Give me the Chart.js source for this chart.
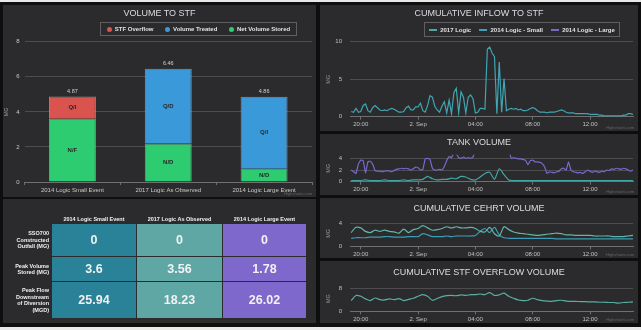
<!DOCTYPE html>
<html>
<head>
<meta charset="utf-8">
<script src="https://cdn.jsdelivr.net/npm/chart.js@4.4.1/dist/chart.umd.min.js"></script>
<style>
html,body{margin:0;padding:0;}
body{width:641px;height:330px;background:#e8e8e8;position:relative;overflow:hidden;font-family:"Liberation Sans",Arial,sans-serif;}
.frame{position:absolute;left:0;top:2px;width:641px;height:325px;background:#0e0e0f;}
.panel{position:absolute;background:#2b2b2d;overflow:hidden;}
.panel canvas{position:absolute;left:0;top:0;}
.ttl{position:absolute;left:0;right:0;text-align:center;color:#dcdcdf;font-size:9px;line-height:11px;}
.lgd{position:absolute;border:1px solid #606063;box-sizing:border-box;display:flex;justify-content:space-around;align-items:center;color:#e0e0e3;font-size:6px;font-weight:bold;}
.lgd i{display:inline-block;vertical-align:middle;margin-right:3px;}
.dot{width:5px;height:5px;border-radius:50%;}
.ln{width:8px;height:1.5px;}
.cred{position:absolute;right:4px;bottom:1px;font-size:4px;color:#666;}
.hd{position:absolute;top:17px;color:#f0f0f0;font-size:5.5px;font-weight:bold;text-align:center;}
.rl{position:absolute;left:0;width:46px;color:#f0f0f0;font-size:5.5px;font-weight:bold;line-height:6.5px;text-align:right;display:flex;align-items:center;justify-content:flex-end;}
.cell{position:absolute;color:#f2f2f2;font-size:12.5px;font-weight:bold;display:flex;align-items:center;justify-content:center;}
</style>
</head>
<body>
<div class="frame"></div>

<div class="panel" style="left:3px;top:5px;width:313px;height:192px">
  <canvas id="barChart" width="313" height="192"></canvas>
  <div class="ttl" style="top:3px">VOLUME TO STF</div>
  <div class="lgd" style="left:97px;top:17px;width:197px;height:14px">
    <span><i class="dot" style="background:#d9534f"></i>STF Overflow</span>
    <span><i class="dot" style="background:#3a9ad9"></i>Volume Treated</span>
    <span><i class="dot" style="background:#2ecc71"></i>Net Volume Stored</span>
  </div>
  <div class="cred">Highcharts.com</div>
</div>

<div class="panel" style="left:3px;top:199px;width:313px;height:124px" id="tbl">
  <div class="hd" style="left:49px;width:84px">2014 Logic Small Event</div>
  <div class="hd" style="left:134px;width:85px">2017 Logic As Observed</div>
  <div class="hd" style="left:220px;width:83px">2014 Logic Large Event</div>
  <div class="rl" style="top:25px;height:32px">SSO700<br>Constructed<br>Outfall (MG)</div>
  <div class="rl" style="top:58px;height:24px">Peak Volume<br>Stored (MG)</div>
  <div class="rl" style="top:83px;height:36px">Peak Flow<br>Downstream<br>of Diversion<br>(MGD)</div>
</div>

<div class="panel" style="left:320px;top:5px;width:318px;height:126px">
  <canvas id="inflowChart" width="318" height="126"></canvas>
  <div class="ttl" style="top:3px">CUMULATIVE INFLOW TO STF</div>
  <div class="lgd" style="left:104px;top:17px;width:196px;height:15px">
    <span><i class="ln" style="background:#4aa89c"></i>2017 Logic</span>
    <span><i class="ln" style="background:#3f9fb8"></i>2014 Logic - Small</span>
    <span><i class="ln" style="background:#7a68c8"></i>2014 Logic - Large</span>
  </div>
  <div class="cred">Highcharts.com</div>
</div>

<div class="panel" style="left:320px;top:134px;width:318px;height:61px">
  <canvas id="tankChart" width="318" height="61"></canvas>
  <div class="ttl" style="top:3px">TANK VOLUME</div>
  <div class="cred">Highcharts.com</div>
</div>

<div class="panel" style="left:320px;top:198px;width:318px;height:60px">
  <canvas id="cehrtChart" width="318" height="60"></canvas>
  <div class="ttl" style="top:5px">CUMULATIVE CEHRT VOLUME</div>
  <div class="cred">Highcharts.com</div>
</div>

<div class="panel" style="left:320px;top:261px;width:318px;height:62px">
  <canvas id="overflowChart" width="318" height="62"></canvas>
  <div class="ttl" style="top:6px">CUMULATIVE STF OVERFLOW VOLUME</div>
  <div class="cred">Highcharts.com</div>
</div>

<script>
// ---- bar chart data ----
var scenarios = ['2014 Logic Small Event', '2017 Logic As Observed', '2014 Logic Large Event'];
var netStored = [3.6, 2.2, 0.75];
var volTreated = [0, 4.26, 4.11];
var stfOverflow = [1.27, 0, 0];
var netLabels = ['N/F', 'N/D', 'N/D'];
var treatedLabels = ['', 'Q/D', 'Q/I'];
var overflowLabels = ['Q/I', '', ''];

// ---- table ----
var rowOutfall = ['0', '0', '0'];
var rowPeakStored = ['3.6', '3.56', '1.78'];
var rowPeakFlow = ['25.94', '18.23', '26.02'];

// ---- time series (hours since 1 Sep 00:00) ----
var tStart = 19 + 20 / 60;
var tMin = 19.25, tMax = 39.0;
var tickHours = [20, 24, 28, 32, 36];
var tickLabels = ['20:00', '2. Sep', '04:00', '08:00', '12:00'];

// 10 minute samples
var inflow2017 = [0.7,0.6,1.1,0.6,0.7,1.5,1.7,0.8,0.6,1.2,
  1.5,1.2,0.9,0.8,0.9,0.8,1.0,1.1,1.0,0.8,
  0.6,0.6,0.7,1.2,1.4,0.9,0.9,1.3,1.3,1.8,
  0.8,0.6,1.5,2.8,2.6,1.4,0.9,0.6,1.4,2.0,
  0.5,2.2,0.4,3.2,3.8,0.5,3.3,2.6,0.5,2.6,
  2.9,2.4,0.5,0.6,1.1,1.1,1.0,9.0,9.3,8.5,
  8.0,0.4,7.3,0.6,5.1,0.8,1.0,1.1,1.0,1.1,
  0.9,1.0,0.8,0.8,0.9,1.1,1.2,1.1,0.8,0.6,
  0.6,0.6,0.5,0.6,0.6,0.6,0.7,0.8,0.9,0.8,
  0.6,0.5,0.5,0.5,0.4,0.4,0.4,0.4,0.4,0.4,
  0.3,0.3,0.3,0.3,0.2,0.2,0.1,0.1,0.1,0.1,
  0.1,0.1,0.1,0.1,0.2,0.2,0.4,0.4,0.3];
var tankLarge = [2.0,1.7,1.4,3.0,3.7,3.6,1.5,3.4,3.5,3.0,
  1.9,1.8,1.8,1.7,1.8,1.9,1.8,1.7,1.9,2.1,
  2.2,2.3,2.2,2.3,2.2,2.0,2.2,2.5,2.4,2.0,
  2.1,3.9,4.0,3.8,2.3,2.0,2.0,2.1,2.0,2.6,
  3.6,4.3,4.1,5.0,4.8,4.1,4.0,4.2,4.0,4.1,
  4.0,4.2,5.5,5.5,5.5,5.5,5.5,5.5,5.5,5.5,
  5.5,5.5,5.5,5.5,5.5,5.5,5.5,4.0,4.1,4.0,
  3.9,3.9,3.8,3.7,2.9,3.6,3.7,3.4,3.4,3.3,
  3.1,2.5,1.4,1.7,1.6,1.5,1.7,1.8,2.2,2.3,
  2.0,3.4,2.0,1.7,1.6,1.5,1.6,1.4,1.7,2.0,
  1.8,1.6,1.8,1.7,1.6,1.8,1.7,2.0,1.9,2.2,
  2.1,2.3,2.2,2.1,2.3,2.2,2.0,1.8,2.0];

// 20 minute samples
var tank2017 = [0.2,0.2,0.2,0.3,0.2,0.2,0.2,0.3,0.2,0.2,
  0.2,0.3,0.2,0.3,0.3,0.4,0.9,0.5,0.3,0.4,
  0.4,0.6,0.5,0.9,0.8,0.4,0.3,0.8,1.4,1.6,
  0.4,2.2,1.2,0.3,0.2,0.2,0.2,0.2,0.2,0.2,
  0.2,0.2,0.2,0.2,0.2,0.2,0.2,0.2,0.2,0.2,
  0.2,0.2,0.2,0.2,0.2,0.2,0.2,0.2,0.2,0.2];
var cehrtUpper = [2.4,3.3,3.2,2.6,2.4,2.8,2.6,2.8,2.6,2.5,
  2.3,3.0,2.4,2.9,3.1,3.6,3.2,2.8,2.9,3.1,
  3.4,3.2,3.4,3.2,3.2,3.3,3.1,2.6,2.5,3.3,
  2.2,1.8,3.4,2.9,2.5,2.3,2.2,2.1,2.0,1.9,
  2.0,2.1,2.2,2.3,2.2,2.0,2.0,1.9,1.9,1.9,
  1.9,1.8,1.8,1.8,1.8,1.7,1.7,1.7,1.8,1.9];
var cehrtLower = [1.4,1.5,1.5,1.5,1.6,1.6,1.6,1.7,1.7,1.6,
  1.6,1.6,1.7,1.7,1.7,2.2,2.0,1.7,1.7,1.7,
  1.8,1.7,1.8,1.8,1.8,1.8,1.9,2.6,3.1,2.4,
  3.3,2.0,1.5,1.4,1.4,1.4,1.4,1.4,1.4,1.4,
  1.4,1.4,1.4,1.3,1.3,1.3,1.3,1.3,1.3,1.3,
  1.3,1.3,1.3,1.3,1.3,1.3,1.3,1.3,1.3,1.3];
var overflowVol = [3.8,5.6,5.3,4.4,3.8,4.7,4.1,4.0,4.4,4.1,
  4.5,3.8,4.2,4.6,5.3,5.9,5.3,3.9,4.5,5.2,
  5.5,5.6,5.5,5.8,5.6,5.9,5.9,6.1,5.9,6.6,
  5.6,5.8,6.4,5.3,4.6,4.0,3.8,3.9,4.6,4.1,
  3.8,3.6,3.5,3.8,3.9,3.6,3.5,3.5,3.4,3.4,
  3.3,3.3,3.2,3.2,3.1,3.1,2.9,3.1,3.2,3.3];

Chart.defaults.font.family = '"Liberation Sans", Arial, sans-serif';
Chart.defaults.color = '#c8c8c8';

function toPoints(values, stepMin) {
  return values.map(function (v, i) {
    return { x: tStart + i * stepMin / 60, y: v };
  });
}

/* table cells */
var tbl = document.getElementById('tbl');
var colX = [49, 134, 220], colW = [84, 85, 83];
var rowY = [25, 58, 83], rowH = [32, 24, 36];
var colColors = ['#2a8298', '#5ea7a5', '#7e68cb'];
[rowOutfall, rowPeakStored, rowPeakFlow].forEach(function (row, r) {
  row.forEach(function (txt, c) {
    var d = document.createElement('div');
    d.className = 'cell';
    d.style.left = colX[c] + 'px';
    d.style.top = rowY[r] + 'px';
    d.style.width = colW[c] + 'px';
    d.style.height = rowH[r] + 'px';
    d.style.background = colColors[c];
    d.textContent = txt;
    tbl.appendChild(d);
  });
});

/* bar chart */
var segLabels = [netLabels, treatedLabels, overflowLabels];
var barLabels = {
  id: 'barLabels',
  afterDatasetsDraw: function (chart) {
    var ctx = chart.ctx;
    var y = chart.scales.y;
    ctx.save();
    ctx.textAlign = 'center';
    ctx.textBaseline = 'middle';
    ctx.font = 'bold 6px "Liberation Sans", Arial';
    ctx.fillStyle = '#2a2a2a';
    chart.data.datasets.forEach(function (ds, di) {
      chart.getDatasetMeta(di).data.forEach(function (bar, i) {
        var txt = segLabels[di][i];
        if (txt) ctx.fillText(txt, bar.x, (bar.y + bar.base) / 2);
      });
    });
    ctx.font = '5.5px "Liberation Sans", Arial';
    ctx.fillStyle = '#d0d0d0';
    chart.getDatasetMeta(0).data.forEach(function (bar, i) {
      var total = netStored[i] + volTreated[i] + stfOverflow[i];
      ctx.fillText(total.toFixed(2), bar.x, y.getPixelForValue(total) - 5);
    });
    ctx.restore();
  }
};

new Chart(document.getElementById('barChart'), {
  type: 'bar',
  data: {
    labels: scenarios,
    datasets: [
      { label: 'Net Volume Stored', data: netStored, backgroundColor: '#2ecc71' },
      { label: 'Volume Treated', data: volTreated, backgroundColor: '#3a9ad9' },
      { label: 'STF Overflow', data: stfOverflow, backgroundColor: '#d9534f' }
    ].map(function (d) {
      d.borderColor = 'rgba(225,225,225,0.55)';
      d.borderWidth = 1;
      d.barPercentage = 0.49;
      d.categoryPercentage = 1;
      return d;
    })
  },
  options: {
    responsive: false,
    animation: false,
    devicePixelRatio: 1,
    layout: { padding: { top: 36.7, right: 4, left: 0, bottom: 0 } },
    plugins: { legend: { display: false }, tooltip: { enabled: false } },
    scales: {
      x: {
        stacked: true,
        afterFit: function (s) { s.height = 15; },
        grid: { offset: true, drawOnChartArea: false, color: '#707073', tickLength: 3 },
        border: { color: '#707073' },
        ticks: { color: '#c8c8c8', font: { size: 6 }, padding: 2, maxRotation: 0 }
      },
      y: {
        stacked: true,
        min: 0,
        max: 8,
        afterFit: function (s) { s.width = 21.5; },
        ticks: { stepSize: 2, color: '#c8c8c8', font: { size: 6 }, padding: 5 },
        grid: { color: '#4d4d50', drawTicks: false },
        border: { display: false },
        title: { display: true, text: 'MG', color: '#9a9a9a', font: { size: 5.5 }, padding: 0 }
      }
    }
  },
  plugins: [barLabels]
});

/* line charts */
function lineOptions(yMax, yTicks, padTop, xHeight) {
  return {
    responsive: false,
    animation: false,
    devicePixelRatio: 1,
    layout: { padding: { top: padTop, right: 5, left: 0, bottom: 0 } },
    plugins: { legend: { display: false }, tooltip: { enabled: false } },
    elements: { point: { radius: 0 } },
    scales: {
      x: {
        type: 'linear',
        min: tMin,
        max: tMax,
        afterBuildTicks: function (s) { s.ticks = tickHours.map(function (v) { return { value: v }; }); },
        afterFit: function (s) { s.height = xHeight; },
        ticks: {
          color: '#c0c0c0', font: { size: 6 }, padding: 1, maxRotation: 0, autoSkip: false,
          callback: function (v, i) { return tickLabels[i]; }
        },
        grid: { drawOnChartArea: false, color: '#707073', tickLength: 3 },
        border: { color: '#707073' }
      },
      y: {
        min: 0,
        max: yMax,
        afterBuildTicks: function (s) { s.ticks = yTicks.map(function (v) { return { value: v }; }); },
        afterFit: function (s) { s.width = 30; },
        ticks: { color: '#c0c0c0', font: { size: 6 }, padding: 8 },
        grid: { color: '#4d4d50', drawTicks: false },
        border: { display: false },
        title: { display: true, text: 'MG', color: '#9a9a9a', font: { size: 5.5 }, padding: { top: 5, bottom: 0 } }
      }
    }
  };
}

function lineSet(label, values, step, color, tension) {
  return {
    label: label, data: toPoints(values, step), borderColor: color,
    borderWidth: 1.2, tension: tension, fill: false
  };
}

new Chart(document.getElementById('inflowChart'), {
  type: 'line',
  data: {
    datasets: [
      lineSet('2017 Logic', inflow2017, 10, '#3fa6b3', 0),
      lineSet('2014 Logic - Small', [], 10, '#3f9fb8', 0),
      lineSet('2014 Logic - Large', [], 10, '#7a68c8', 0)
    ]
  },
  options: lineOptions(10, [0, 5, 10], 36.7, 14.3)
});

new Chart(document.getElementById('tankChart'), {
  type: 'line',
  data: {
    datasets: [
      lineSet('2014 Logic - Large', tankLarge, 10, '#7a68d0', 0.1),
      lineSet('2017 Logic', tank2017, 20, '#3fa6a6', 0.2)
    ]
  },
  options: lineOptions(4.6, [0, 2, 4], 20.8, 13.3)
});

new Chart(document.getElementById('cehrtChart'), {
  type: 'line',
  data: {
    datasets: [
      lineSet('2017 Logic', cehrtUpper, 20, '#62b7a2', 0.3),
      lineSet('2014 Logic - Small', cehrtLower, 20, '#3b9db6', 0.3)
    ]
  },
  options: lineOptions(4.5, [0, 4], 22.4, 11.3)
});

new Chart(document.getElementById('overflowChart'), {
  type: 'line',
  data: {
    datasets: [
      lineSet('2017 Logic', overflowVol, 20, '#58ae9f', 0.3)
    ]
  },
  options: lineOptions(9, [0, 8], 24.8, 11.7)
});
</script>
</body>
</html>
